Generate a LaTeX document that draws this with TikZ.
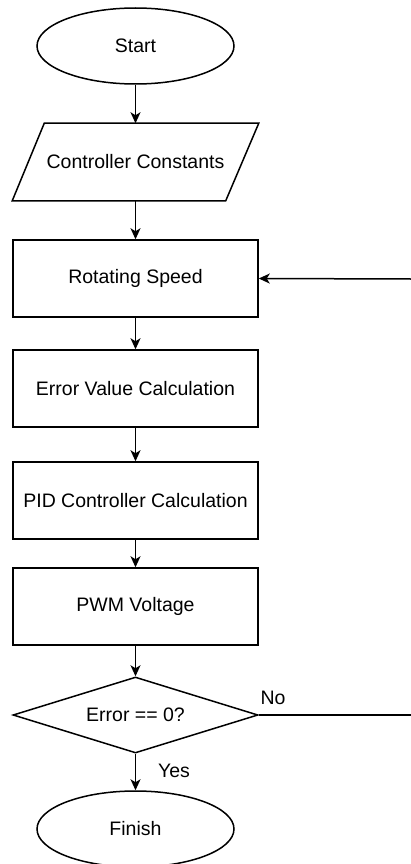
\documentclass[tikz,border=0pt]{standalone}
\usepackage{fontspec}
\setmainfont{Liberation Sans}
\usetikzlibrary{shapes.geometric,arrows.meta}
\begin{document}
\begin{tikzpicture}[x=1pt,y=-1pt,
  font=\fontsize{19.5}{22}\selectfont,
  line width=1.5pt,
  >={Stealth[length=11pt,width=10pt,inset=3pt]},
  term/.style={ellipse,draw,minimum width=197pt,minimum height=76pt,inner sep=0pt},
  procbox/.style={rectangle,draw,minimum width=245pt,minimum height=77pt,inner sep=0pt},
  iobox/.style={rectangle,minimum width=245pt,minimum height=76pt,inner sep=0pt},
  decis/.style={diamond,draw,minimum width=245pt,minimum height=76pt,inner sep=0pt,aspect=3.2},
  lbl/.style={inner sep=0pt}]
\useasboundingbox (0,0) rectangle (411,864);
\node[term] (start) at (135.5,46) {Start};
\node[iobox] (cc) at (135.5,162) {Controller Constants};
\draw ([xshift=32pt]cc.north west) -- (cc.north east) -- ([xshift=-33pt]cc.south east) -- (cc.south west) -- cycle;
\node[procbox] (rs) at (135.5,278.5) {Rotating Speed};
\node[procbox] (ev) at (135.5,388.5) {Error Value Calculation};
\node[procbox] (pid) at (135.5,500.5) {PID Controller Calculation};
\node[procbox] (pwm) at (135.5,606.5) {PWM Voltage};
\node[decis] (dec) at (135.5,715) {Error == 0?};
\node[term] (fin) at (135.5,829) {Finish};
\coordinate (fb) at (411,279);
\coordinate (noend) at (411,715);
\draw[->] (start) -- (cc.north);
\draw[->] (cc.south) -- (rs);
\draw[->] (rs) -- (ev);
\draw[->] (ev) -- (pid);
\draw[->] (pid) -- (pwm);
\draw[->] (pwm) -- (dec);
\draw[->] (dec) -- (fin);
\node[lbl] (yes) at (174,771) {Yes};
\draw (dec.east) -- (noend);
\node[lbl] (no) at (273,698) {No};
\draw[->] (fb) -- (rs.east);
\end{tikzpicture}
\end{document}
